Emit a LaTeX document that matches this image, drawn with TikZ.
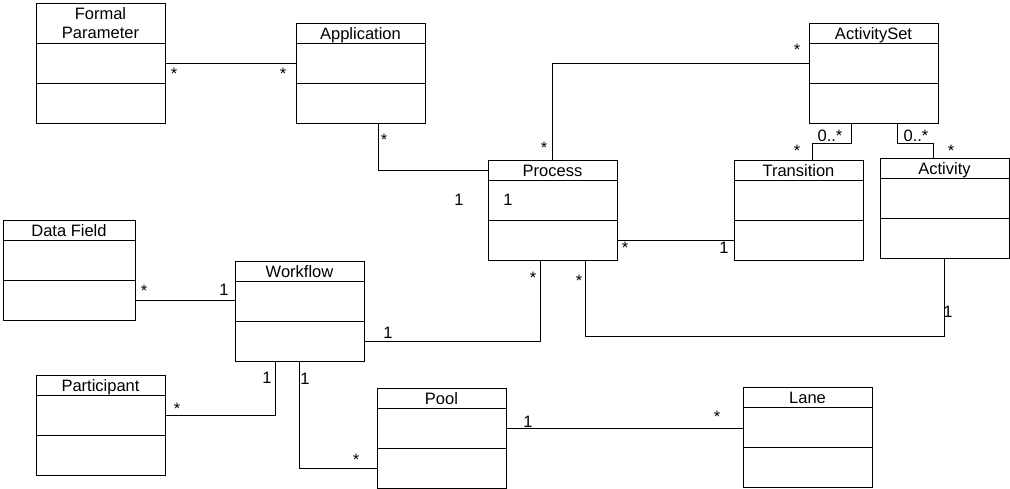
\documentclass[tikz,border=0pt]{standalone}
\usepackage{fontspec}
\setmainfont{Liberation Sans}
\usetikzlibrary{positioning,calc}

\begin{document}
\begin{tikzpicture}[
    x=1pt, y=-1pt,
    classbox/.style={rectangle, draw=black, fill=white, line width=0.9pt,
                     minimum width=129pt, inner sep=0pt, outer sep=0pt,
                     font=\fontsize{16.5}{19}\selectfont},
    classhead/.style={classbox, minimum height=20pt, text height=13.5pt, text depth=0pt},
    classpart/.style={classbox, minimum height=40pt},
    assoc/.style={draw=black, line width=0.9pt},
    mult/.style={anchor=base, inner sep=0pt, font=\fontsize{16.5}{19}\selectfont}
]
\useasboundingbox (0,0) rectangle (1010,488);

% Classes
\node[classbox, minimum height=40pt, align=center, anchor=north west] (fp) at (36,3) {Formal\\Parameter};
\node[classpart, below=0pt of fp] (fp-a) {};
\node[classpart, below=0pt of fp-a] (fp-b) {};

\node[classhead, anchor=north west] (app) at (296,23) {Application};
\node[classpart, below=0pt of app] (app-a) {};
\node[classpart, below=0pt of app-a] (app-b) {};

\node[classhead, anchor=north west] (aset) at (809,23) {ActivitySet};
\node[classpart, below=0pt of aset] (aset-a) {};
\node[classpart, below=0pt of aset-a] (aset-b) {};

\node[classhead, anchor=north west] (proc) at (488,160) {Process};
\node[classpart, below=0pt of proc] (proc-a) {};
\node[classpart, below=0pt of proc-a] (proc-b) {};

\node[classhead, anchor=north west] (trans) at (734,160) {Transition};
\node[classpart, below=0pt of trans] (trans-a) {};
\node[classpart, below=0pt of trans-a] (trans-b) {};

\node[classhead, anchor=north west] (act) at (880,158) {Activity};
\node[classpart, below=0pt of act] (act-a) {};
\node[classpart, below=0pt of act-a] (act-b) {};

\node[classhead, minimum width=132pt, anchor=north west] (dfield) at (3,220) {Data Field};
\node[classpart, minimum width=132pt, below=0pt of dfield] (dfield-a) {};
\node[classpart, minimum width=132pt, below=0pt of dfield-a] (dfield-b) {};

\node[classhead, anchor=north west] (wflow) at (235,261) {Workflow};
\node[classpart, below=0pt of wflow] (wflow-a) {};
\node[classpart, below=0pt of wflow-a] (wflow-b) {};

\node[classhead, anchor=north west] (part) at (36,375) {Participant};
\node[classpart, below=0pt of part] (part-a) {};
\node[classpart, below=0pt of part-a] (part-b) {};

\node[classhead, anchor=north west] (pool) at (377,388) {Pool};
\node[classpart, below=0pt of pool] (pool-a) {};
\node[classpart, below=0pt of pool-a] (pool-b) {};

\node[classhead, anchor=north west] (lane) at (743,387) {Lane};
\node[classpart, below=0pt of lane] (lane-a) {};
\node[classpart, below=0pt of lane-a] (lane-b) {};

% Associations
\draw[assoc] (fp-a.east) -- (app-a.west);
\draw[assoc] ($(app-b.south west)+(82,0)$) |- (proc.west);
\draw[assoc] (aset-a.west) -| (proc.north);
\draw[assoc] ($(aset-b.south west)+(42,0)$) -- ++(0,20) -| ($(trans.north west)+(78,0)$);
\draw[assoc] ($(aset-b.south west)+(88,0)$) -- ++(0,20) -| ($(act.north west)+(53,0)$);
\draw[assoc] (proc-b.east) -- (trans-b.west);
\draw[assoc] (dfield-b.east) -- (dfield-b.east -| wflow-a.west);
\draw[assoc] (wflow-b.east) -| ($(proc-b.south west)+(52,0)$);
\draw[assoc] ($(proc-b.south west)+(97,0)$) -- ++(0,76) -| (act-b.south);
\draw[assoc] ($(wflow-b.south west)+(40,0)$) |- (part-a.east);
\draw[assoc] ($(wflow-b.south west)+(64,0)$) |- (pool-b.west);
\draw[assoc] (pool-a.east) -- (pool-a.east -| lane-a.west);

% Multiplicities
\node[mult] (m1) at (174,79) {*};
\node[mult] (m2) at (283,79) {*};
\node[mult] (m3) at (384,145) {*};
\node[mult] (m4) at (459,205) {1};
\node[mult] (m5) at (508,205) {1};
\node[mult] (m6) at (797,55) {*};
\node[mult] (m7) at (544,153) {*};
\node[mult] (m8) at (830,141) {0..*};
\node[mult] (m9) at (797,156) {*};
\node[mult] (m10) at (916,141) {0..*};
\node[mult] (m11) at (951,156) {*};
\node[mult] (m12) at (625,253) {*};
\node[mult] (m13) at (724,253) {1};
\node[mult] (m14) at (144,296) {*};
\node[mult] (m15) at (224,295) {1};
\node[mult] (m16) at (388,338) {1};
\node[mult] (m17) at (533,283) {*};
\node[mult] (m18) at (579,286) {*};
\node[mult] (m19) at (948,317) {1};
\node[mult] (m20) at (267,383) {1};
\node[mult] (m21) at (177,414) {*};
\node[mult] (m22) at (305,384) {1};
\node[mult] (m23) at (356,465) {*};
\node[mult] (m24) at (528,427) {1};
\node[mult] (m25) at (717,422) {*};

\end{tikzpicture}
\end{document}
